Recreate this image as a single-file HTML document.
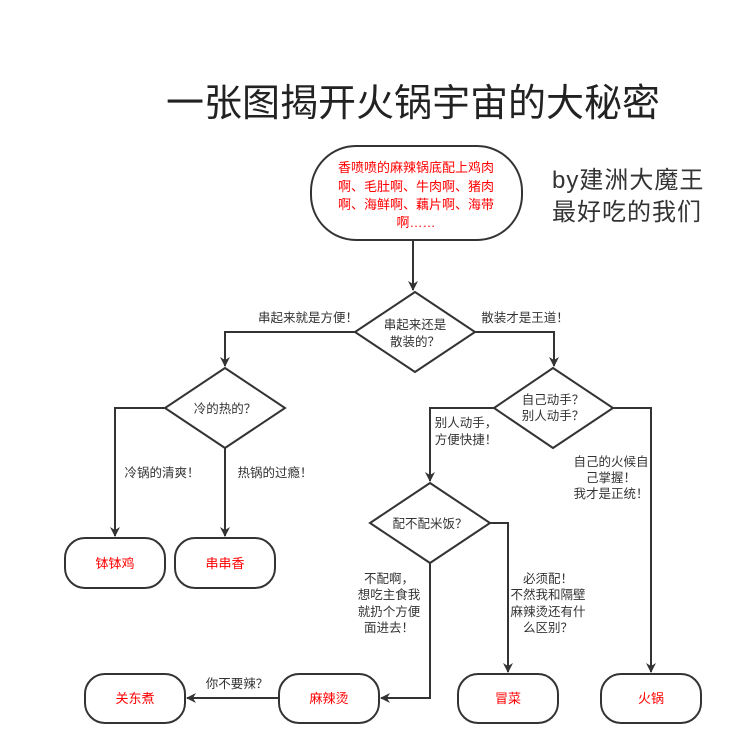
<!DOCTYPE html>
<html><head><meta charset="utf-8"><style>
html,body{margin:0;padding:0;background:#fff;}
svg{display:block;}
text{font-family:"Liberation Sans","Noto Sans CJK SC",sans-serif;}
</style></head><body>
<svg width="740" height="756" viewBox="0 0 740 756" xmlns="http://www.w3.org/2000/svg">
<defs>
<marker id="a" markerWidth="10" markerHeight="10" refX="9" refY="5" orient="auto" markerUnits="userSpaceOnUse">
<path d="M0,0 L10,5 L0,10 L3,5 Z" fill="#333"/>
</marker>
</defs>
<rect width="740" height="756" fill="#fff"/>
<text x="413" y="116" text-anchor="middle" font-size="38" fill="#222" font-family="'Noto Sans CJK SC',sans-serif">一张图揭开火锅宇宙的大秘密</text>
<text x="552" y="188" font-size="24" fill="#333" letter-spacing="1">by建洲大魔王</text>
<text x="552" y="220" font-size="24" fill="#333" letter-spacing="1">最好吃的我们</text>

<g fill="none" stroke="#333" stroke-width="2">
<rect x="311" y="146" width="211" height="94" rx="45"/>
<polygon points="415,292 475,332 415,372 355,332"/>
<polygon points="225,368 285,408 225,448 165,408"/>
<polygon points="553,368 613,408 553,448 494,408"/>
<polygon points="430,483 490,523 430,563 370,523"/>
<rect x="65" y="538" width="100" height="50" rx="20"/>
<rect x="175" y="538" width="100" height="50" rx="20"/>
<rect x="85" y="674" width="100" height="49" rx="20"/>
<rect x="279" y="674" width="100" height="49" rx="20"/>
<rect x="458" y="674" width="100" height="49" rx="20"/>
<rect x="601" y="674" width="100" height="49" rx="20"/>
<path d="M413,240 V290" marker-end="url(#a)"/>
<path d="M355,332 H225 V366" marker-end="url(#a)"/>
<path d="M475,332 H554 V366" marker-end="url(#a)"/>
<path d="M165,408 H115 V536" marker-end="url(#a)"/>
<path d="M225,448 V536" marker-end="url(#a)"/>
<path d="M494,408 H430 V481" marker-end="url(#a)"/>
<path d="M613,408 H651 V672" marker-end="url(#a)"/>
<path d="M490,523 H508 V672" marker-end="url(#a)"/>
<path d="M430,563 V698 H381" marker-end="url(#a)"/>
<path d="M279,698 H187" marker-end="url(#a)"/>
</g>

<g font-size="13" fill="#f00" text-anchor="middle">
<text x="416" y="172">香喷喷的麻辣锅底配上鸡肉</text>
<text x="416" y="191">啊、毛肚啊、牛肉啊、猪肉</text>
<text x="416" y="209">啊、海鲜啊、藕片啊、海带</text>
<text x="416" y="227">啊……</text>
<text x="115" y="568">钵钵鸡</text>
<text x="225" y="568">串串香</text>
<text x="135" y="703">关东煮</text>
<text x="329" y="703">麻辣烫</text>
<text x="508" y="703">冒菜</text>
<text x="651" y="703">火锅</text>
</g>

<g font-size="12.5" fill="#333" text-anchor="middle">
<text x="415" y="329">串起来还是</text>
<text x="415" y="346">散装的？</text>
<text x="308" y="322">串起来就是方便！</text>
<text x="525" y="322">散装才是王道！</text>
<text x="225" y="413">冷的热的？</text>
<text x="553" y="404">自己动手？</text>
<text x="553" y="420">别人动手？</text>
<text x="430" y="528">配不配米饭？</text>
<text x="162" y="477">冷锅的清爽！</text>
<text x="275" y="477">热锅的过瘾！</text>
<text x="466" y="427">别人动手，</text>
<text x="466" y="444">方便快捷！</text>
<text x="611" y="466">自己的火候自</text>
<text x="611" y="482">己掌握！</text>
<text x="611" y="498">我才是正统！</text>
<text x="389" y="583">不配啊，</text>
<text x="389" y="599">想吃主食我</text>
<text x="389" y="616">就扔个方便</text>
<text x="389" y="632">面进去！</text>
<text x="548" y="583">必须配！</text>
<text x="548" y="599">不然我和隔壁</text>
<text x="548" y="616">麻辣烫还有什</text>
<text x="548" y="632">么区别？</text>
<text x="237" y="688">你不要辣？</text>
</g>
</svg>
</body></html>
